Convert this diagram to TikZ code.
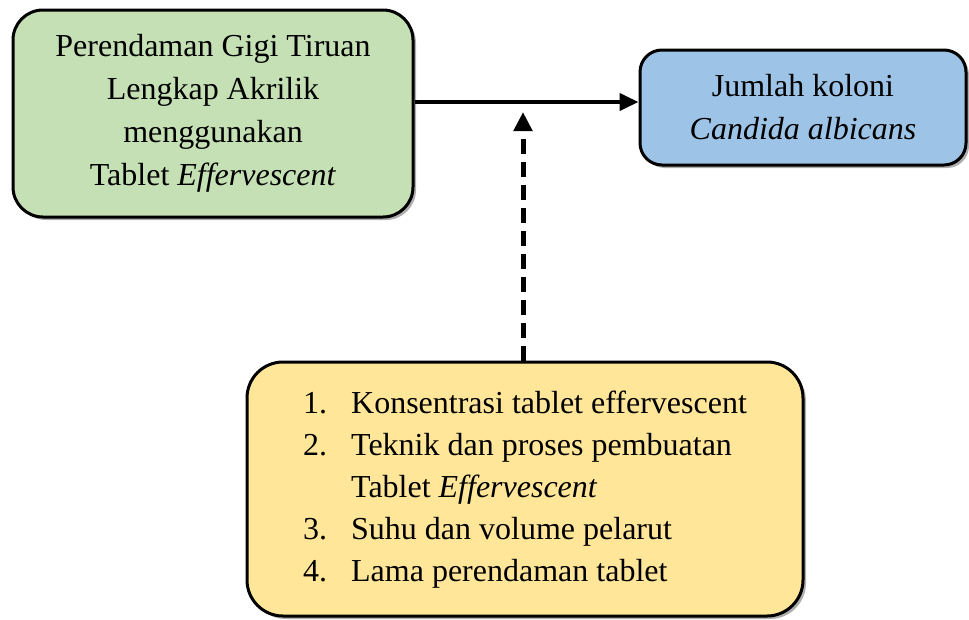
\documentclass[tikz,border=0pt]{standalone}
\usepackage{fontspec}
\setmainfont{Liberation Serif}
\usetikzlibrary{arrows.meta,shadows}
\tikzset{
  boxbase/.style={draw=black, line width=3pt, align=center, inner sep=0pt,
    font=\fontsize{32}{43}\selectfont,
    drop shadow={shadow xshift=3pt, shadow yshift=-3pt, opacity=0.45, fill=black!70}},
  greenbox/.style={boxbase, fill=boxgreen, rounded corners=30pt, minimum width=400pt, minimum height=207pt},
  bluebox/.style={boxbase, fill=boxblue, rounded corners=22pt, minimum width=326pt, minimum height=115pt},
  yellowbox/.style={boxbase, fill=boxyellow, rounded corners=36pt, minimum width=556pt, minimum height=254pt},
  solidarrow/.style={line width=4pt, -{Triangle[length=19pt,width=17pt]}},
  dasharrow/.style={line width=5pt, dash pattern=on 15pt off 8pt, -{Triangle[length=19pt,width=18pt]}}
}
\definecolor{boxgreen}{HTML}{C5E0B4}
\definecolor{boxblue}{HTML}{9DC3E6}
\definecolor{boxyellow}{HTML}{FFE699}
\begin{document}
\begin{tikzpicture}[x=1pt,y=-1pt]
\useasboundingbox (0,0) rectangle (969,619);
\node[greenbox] (treat) at (213,113.5) {Perendaman Gigi Tiruan\\Lengkap Akrilik\\menggunakan\\Tablet \textit{Effervescent}};
\node[bluebox] (result) at (803,107.5) {Jumlah koloni\\\textit{Candida albicans}};
\node[yellowbox] (factors) at (525,489) {\fontsize{32}{42}\selectfont
  \begin{tabular}{@{}l@{\hspace{24pt}}l@{}}
  1. & Konsentrasi tablet effervescent\\
  2. & Teknik dan proses pembuatan\\
     & Tablet \textit{Effervescent}\\
  3. & Suhu dan volume pelarut\\
  4. & Lama perendaman tablet
  \end{tabular}};
\draw[solidarrow] (treat.east |- 0,102) coordinate (a1) -- (result.west |- a1);
\coordinate (tip) at (523,112);
\draw[dasharrow] (factors.north -| tip) -- (tip);
\end{tikzpicture}
\end{document}
